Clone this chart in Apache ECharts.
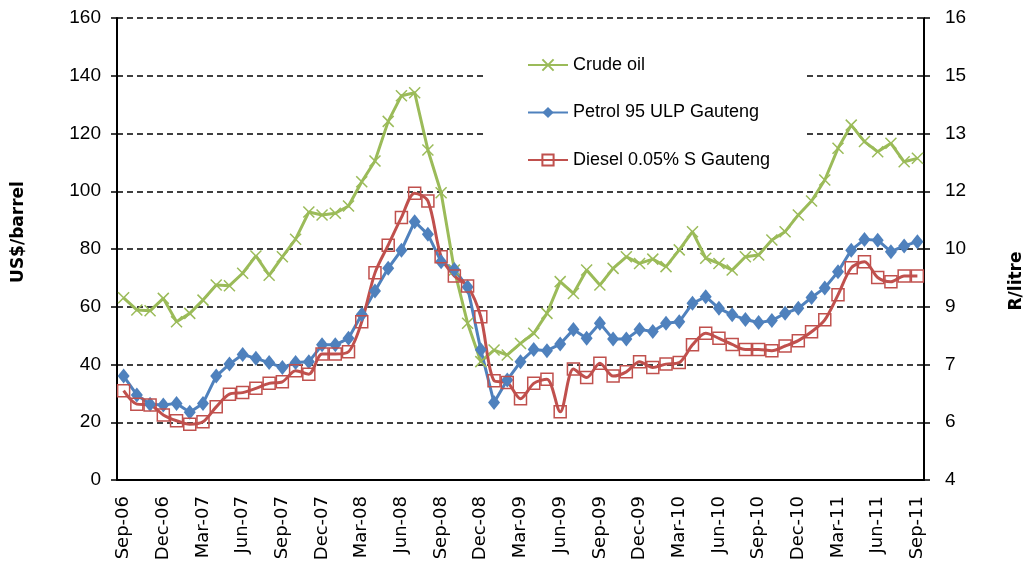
<!DOCTYPE html>
<html>
<head>
<meta charset="utf-8">
<script src="https://cdn.jsdelivr.net/npm/echarts@6/dist/echarts.min.js"></script>
<style>
html,body{margin:0;padding:0;background:#fff;}
#chart{width:1036px;height:572px;}
</style>
</head>
<body>
<div id="chart"></div>
<script>
// months, Sep-06 .. Sep-11
var months = [
  'Sep-06','Oct-06','Nov-06','Dec-06','Jan-07','Feb-07','Mar-07','Apr-07','May-07','Jun-07','Jul-07','Aug-07',
  'Sep-07','Oct-07','Nov-07','Dec-07','Jan-08','Feb-08','Mar-08','Apr-08','May-08','Jun-08','Jul-08','Aug-08',
  'Sep-08','Oct-08','Nov-08','Dec-08','Jan-09','Feb-09','Mar-09','Apr-09','May-09','Jun-09','Jul-09','Aug-09',
  'Sep-09','Oct-09','Nov-09','Dec-09','Jan-10','Feb-10','Mar-10','Apr-10','May-10','Jun-10','Jul-10','Aug-10',
  'Sep-10','Oct-10','Nov-10','Dec-10','Jan-11','Feb-11','Mar-11','Apr-11','May-11','Jun-11','Jul-11','Aug-11',
  'Sep-11'
];

// US$/barrel (left axis)
var crudeOil = [
  63.1,58.9,58.6,62.9,54.8,57.7,62.3,67.5,67.3,71.6,77.6,70.9,
  77.3,83.4,92.8,91.8,92.4,94.9,103.3,110.5,124.2,133.1,134.1,114.3,
  99.5,72.7,54.3,41.0,45.0,43.3,47.3,50.8,57.7,68.7,64.6,72.7,
  67.5,73.3,77.3,75.0,76.5,73.9,79.7,86.0,76.8,75.0,72.7,77.3,
  77.9,83.1,86.0,91.8,96.6,103.9,114.9,122.9,117.2,113.7,116.6,110.2,
  111.4
];

// R/litre (right axis)
var petrol95 = [
  6.70,6.21,5.97,5.95,5.99,5.76,5.99,6.70,7.01,7.26,7.16,7.05,
  6.92,7.05,7.07,7.51,7.51,7.68,8.30,8.91,9.50,9.97,10.71,10.38,
  9.67,9.47,9.01,7.38,6.01,6.60,7.07,7.39,7.36,7.53,7.91,7.68,
  8.07,7.66,7.66,7.91,7.86,8.07,8.11,8.59,8.76,8.46,8.29,8.17,
  8.09,8.14,8.33,8.46,8.74,8.99,9.41,9.97,10.25,10.23,9.93,10.08,
  10.19
];

var diesel = [
  6.32,5.97,5.95,5.69,5.54,5.45,5.51,5.90,6.23,6.27,6.38,6.51,
  6.55,6.84,6.75,7.27,7.27,7.33,8.11,9.38,10.10,10.82,11.45,11.25,
  9.80,9.30,9.04,8.24,6.58,6.53,6.11,6.51,6.62,5.77,6.88,6.66,
  7.03,6.70,6.81,7.07,6.92,7.01,7.05,7.51,7.81,7.68,7.52,7.39,
  7.39,7.36,7.48,7.62,7.85,8.16,8.81,9.51,9.67,9.26,9.15,9.30,
  9.30
];

// right axis ticks (Excel shows them rounded)
var rightTicks = [4,5.5,7,8.5,10,11.5,13,14.5,16];

var green = '#9BBB59', blue = '#4F81BD', red = '#C0504D';
var numFont = "'Liberation Sans',Arial,sans-serif";

var chart = echarts.init(document.getElementById('chart'));
var option = {
  animation:false,
  backgroundColor:'#fff',
  grid:{left:117, right:112, top:18, bottom:92},
  legend:{
    orient:'vertical',
    left:483,
    top:40,
    padding:[16,36,10,44],
    backgroundColor:'#fff',
    itemWidth:40,
    itemHeight:14,
    itemGap:29.5,
    textStyle:{fontFamily:numFont, fontSize:18, color:'#000'},
    data:['Crude oil','Petrol 95 ULP Gauteng','Diesel 0.05% S Gauteng']
  },
  graphic:[
    {type:'text', x:19, y:232, rotation:Math.PI/2,
      style:{text:'US$/barrel', align:'center', verticalAlign:'middle',
        font:"bold 17px 'DejaVu Sans'", fill:'#000'}},
    {type:'text', x:1017, y:281, rotation:Math.PI/2,
      style:{text:'R/litre', align:'center', verticalAlign:'middle',
        font:"bold 17px 'DejaVu Sans'", fill:'#000'}}
  ],
  xAxis:{
    type:'category',
    data:months,
    boundaryGap:true,
    axisLine:{lineStyle:{color:'#000', width:2}},
    axisTick:{interval:2, length:7, lineStyle:{color:'#000', width:1.5}},
    axisLabel:{interval:2, rotate:90, margin:16, color:'#000',
      fontFamily:'DejaVu Sans', fontSize:18}
  },
  yAxis:[{
    type:'value',
    min:0, max:160, interval:20,
    axisLine:{show:true, lineStyle:{color:'#000', width:2}},
    axisTick:{show:true, length:6, lineStyle:{color:'#000', width:1.5}},
    axisLabel:{color:'#000', fontFamily:numFont, fontSize:19, margin:16},
    splitLine:{lineStyle:{color:'#000', width:1.5, type:[6,4]}}
  },{
    type:'value',
    min:4, max:16,
    axisLine:{show:true, lineStyle:{color:'#000', width:2}},
    axisTick:{show:true, length:6, customValues:rightTicks, lineStyle:{color:'#000', width:1.5}},
    axisLabel:{color:'#000', fontFamily:numFont, fontSize:19, margin:21,
      customValues:rightTicks,
      formatter:function(v){ return String(Math.round(v)); }},
    splitLine:{show:false}
  }],
  series:[{
    name:'Crude oil',
    type:'line',
    yAxisIndex:0,
    data:crudeOil,
    showAllSymbol:true,
    symbol:'path://M0,0L10,10M10,0L0,10',
    symbolSize:11,
    lineStyle:{color:green, width:3},
    itemStyle:{color:green, borderColor:green, borderWidth:1.5}
  },{
    name:'Petrol 95 ULP Gauteng',
    type:'line',
    yAxisIndex:1,
    data:petrol95,
    showAllSymbol:true,
    symbol:'diamond',
    symbolSize:[12,15],
    lineStyle:{color:blue, width:3},
    itemStyle:{color:blue}
  },{
    name:'Diesel 0.05% S Gauteng',
    type:'line',
    yAxisIndex:1,
    data:diesel,
    showAllSymbol:true,
    smooth:0.3,
    symbol:'rect',
    symbolSize:12,
    lineStyle:{color:red, width:3},
    itemStyle:{color:'rgba(255,255,255,0)', borderColor:red, borderWidth:1.5}
  }]
};
chart.setOption(option);
</script>
</body>
</html>
